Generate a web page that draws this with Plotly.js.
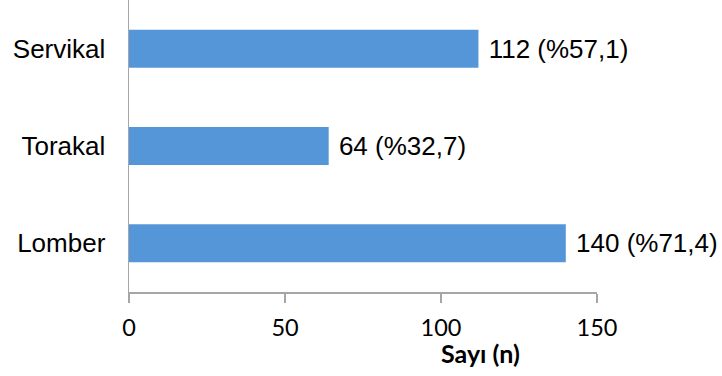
<!DOCTYPE html>
<html><head><meta charset="utf-8">
<script src="https://cdn.plot.ly/plotly-3.0.1.min.js"></script>
<style>body{margin:0;background:#fff}</style>
</head><body><div id="chart" style="width:722px;height:376px"></div>
<script>
const categories = ["Servikal", "Torakal", "Lomber"];
const counts = [112, 64, 140];
const percents = ["57,1", "32,7", "71,4"];
const xTicks = [0, 50, 100, 150];

const texts = counts.map((c, i) => " " + c + " (%" + percents[i] + ")");

const trace = {
  type: "bar", orientation: "h",
  y: categories, x: counts,
  text: texts, textposition: "outside", cliponaxis: false,
  textfont: {family: "Liberation Sans, Arial, sans-serif", size: 26, color: "#000"},
  marker: {color: "#5596d8", line: {width: 0}},
  width: 0.39, hoverinfo: "none"
};

const layout = {
  width: 722, height: 376,
  margin: {l: 129, r: 125, t: 0, b: 84},
  paper_bgcolor: "#fff", plot_bgcolor: "#fff",
  showlegend: false,
  xaxis: {
    range: [0, 150], tickvals: xTicks, ticktext: xTicks.map(String),
    showgrid: false, zeroline: false,
    showline: true, linecolor: "#a6a6a6", linewidth: 1.5,
    ticks: "outside", ticklen: 9, tickcolor: "#a6a6a6", tickwidth: 1.5,
    ticklabelstandoff: 5,
    tickfont: {family: "Lato, Open Sans, sans-serif", size: 23.5, color: "#000"}
  },
  yaxis: {
    type: "category", categoryorder: "array", categoryarray: categories.slice().reverse(),
    range: [-0.5, 2.5],
    showgrid: false, zeroline: false,
    showline: true, linecolor: "#a6a6a6", linewidth: 1.5,
    ticks: "", ticklabelstandoff: 17,
    tickfont: {family: "Liberation Sans, Arial, sans-serif", size: 26, color: "#000"}
  },
  annotations: [{
    text: "<b>Sayı (n)</b>", xref: "paper", yref: "paper",
    x: 0.75, y: -0.209, xanchor: "center", yanchor: "middle", showarrow: false,
    font: {family: "Lato, Open Sans, sans-serif", size: 25, color: "#000"}
  }]
};

Plotly.newPlot("chart", [trace], layout, {staticPlot: true, displayModeBar: false});
</script></body></html>
